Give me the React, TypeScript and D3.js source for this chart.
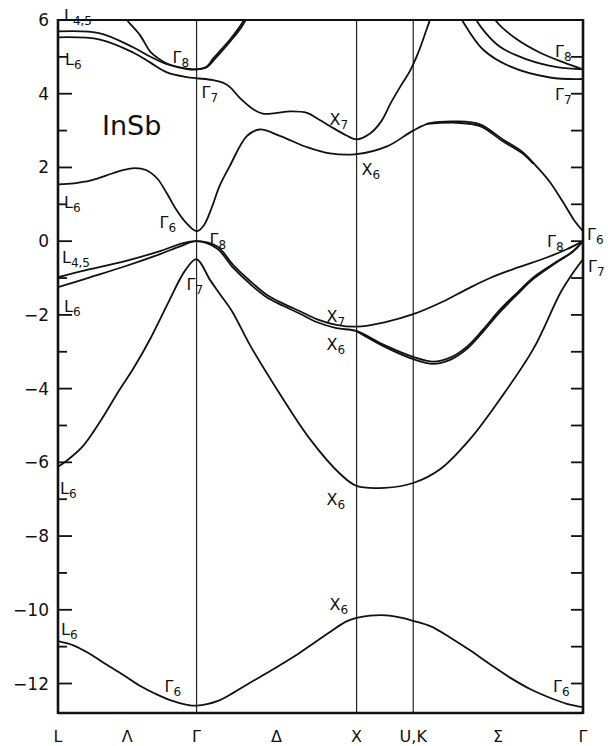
import React from "react";
import * as d3 from "d3";

// Symmetry points along the path L–Γ–X–U,K–Γ (k in units of 2π/a)
const K_L = 0;
const K_G = 0.866;
const K_X = 1.866;
const K_U = 2.22;
const K_G2 = 3.281;

const pathLabels = [
  { text: "L", k: K_L },
  { text: "Λ", k: (K_L + K_G) / 2 },
  { text: "Γ", k: K_G },
  { text: "Δ", k: (K_G + K_X) / 2 },
  { text: "X", k: K_X },
  { text: "U,K", k: K_U },
  { text: "Σ", k: (K_U + K_G2) / 2 },
  { text: "Γ", k: K_G2 },
];

const energyTicks = d3.range(-12, 7, 1);
const energyLabels = [6, 4, 2, 0, -2, -4, -6, -8, -10, -12];

// Bands as [k, E (eV)]
const bandS: [number, number][] = [
  [0, -10.85], [0.1, -10.97], [0.2, -11.2], [0.3, -11.48], [0.42, -11.8], [0.52, -12.08],
  [0.62, -12.3], [0.72, -12.48], [0.8, -12.57], [0.866, -12.6],
  [1.0, -12.47], [1.1, -12.24], [1.2, -11.98], [1.35, -11.6], [1.5, -11.2], [1.6, -10.9],
  [1.7, -10.6], [1.8, -10.32], [1.866, -10.22], [1.95, -10.16], [2.05, -10.15], [2.15, -10.22],
  [2.22, -10.3], [2.33, -10.45], [2.45, -10.75], [2.575, -11.1], [2.7, -11.48], [2.825, -11.84],
  [2.95, -12.15], [3.07, -12.38], [3.18, -12.55], [3.281, -12.64],
];

const bandP: [number, number][] = [
  [0, -6.12], [0.056, -5.95], [0.156, -5.56], [0.2625, -4.9], [0.3875, -4.01], [0.469, -3.47],
  [0.575, -2.66], [0.7, -1.57], [0.794, -0.8], [0.866, -0.49], [0.95, -1.05], [1.0125, -1.44],
  [1.09, -1.92], [1.2, -2.82], [1.3875, -4.15], [1.575, -5.37], [1.7625, -6.31], [1.866, -6.64],
  [2.04, -6.69], [2.22, -6.56], [2.39, -6.18], [2.575, -5.37], [2.76, -4.3], [2.97, -2.93],
  [3.14, -1.4], [3.22, -0.85], [3.281, -0.49],
];

const bandV1: [number, number][] = [
  [0, -0.98], [0.2, -0.76], [0.42, -0.54], [0.6375, -0.27], [0.7625, -0.08], [0.866, 0],
  [0.994, -0.14], [1.094, -0.64], [1.2, -1.08], [1.306, -1.46], [1.41, -1.7], [1.5125, -1.9],
  [1.62, -2.12], [1.74, -2.27], [1.866, -2.32], [2.04, -2.2], [2.22, -1.98], [2.4, -1.65],
  [2.556, -1.3], [2.7, -1.0], [2.87, -0.72], [3.05, -0.45], [3.18, -0.22], [3.281, 0],
];

const bandV2: [number, number][] = [
  [0, -1.25], [0.2, -0.98], [0.42, -0.68], [0.6375, -0.35], [0.7625, -0.14], [0.866, 0],
  [0.994, -0.2], [1.094, -0.72], [1.2, -1.16], [1.306, -1.53], [1.41, -1.76], [1.5125, -1.97],
  [1.62, -2.2], [1.74, -2.36], [1.866, -2.44], [2.04, -2.82], [2.22, -3.14], [2.344, -3.27],
  [2.45, -3.16], [2.556, -2.86], [2.656, -2.4], [2.7625, -1.86], [2.869, -1.4], [2.969, -0.99],
  [3.094, -0.62], [3.219, -0.27], [3.281, 0],
];

const bandV3: [number, number][] = [
  [1.866, -2.44], [2.04, -2.86], [2.22, -3.2], [2.344, -3.33], [2.45, -3.22], [2.556, -2.92],
  [2.656, -2.46], [2.7625, -1.92], [2.869, -1.45], [2.969, -1.03], [3.094, -0.64], [3.219, -0.28],
  [3.281, 0],
];

const bandC1: [number, number][] = [
  [0, 1.54], [0.1, 1.57], [0.2, 1.64], [0.3, 1.78], [0.4, 1.92], [0.48, 1.98], [0.55, 1.93],
  [0.62, 1.7], [0.68, 1.3], [0.74, 0.85], [0.8, 0.5], [0.866, 0.27], [0.91, 0.42],
  [0.96, 0.9], [1.01, 1.5], [1.075, 2.05], [1.18, 2.85], [1.26, 3.03],
  [1.39, 2.85], [1.556, 2.55], [1.7, 2.38], [1.866, 2.36], [2.056, 2.57], [2.22, 3.0],
  [2.325, 3.2], [2.494, 3.25], [2.6375, 3.17], [2.78, 2.76], [2.906, 2.41], [2.99, 2.03],
  [3.075, 1.6], [3.156, 1.06], [3.23, 0.54], [3.281, 0.27],
];

const bandC1b: [number, number][] = [
  [2.3, 3.18], [2.494, 3.21], [2.6375, 3.12], [2.78, 2.71], [2.906, 2.37], [2.97, 2.1],
];

const bandC2: [number, number][] = [
  [0, 5.69], [0.2625, 5.64], [0.469, 5.26], [0.575, 5.01], [0.681, 4.8], [0.806, 4.67],
  [0.866, 4.66], [0.93, 4.74], [0.969, 4.95], [1.075, 5.47], [1.1375, 5.83], [1.19, 6.2],
];

const bandC3: [number, number][] = [
  [0.42, 6.1], [0.431, 6.0], [0.5125, 5.59], [0.575, 5.15], [0.62, 4.98], [0.681, 4.82],
  [0.806, 4.68], [0.866, 4.66], [0.93, 4.72], [0.975, 4.92], [1.08, 5.44], [1.145, 5.8],
  [1.2, 6.2],
];

const bandC4: [number, number][] = [
  [0, 5.53], [0.2625, 5.47], [0.469, 5.12], [0.575, 4.85], [0.681, 4.58], [0.806, 4.45],
  [0.866, 4.42], [0.969, 4.37], [1.03, 4.3], [1.075, 4.18], [1.1375, 3.88], [1.22, 3.58],
  [1.28, 3.46], [1.37, 3.48], [1.45, 3.52], [1.556, 3.48], [1.63, 3.3], [1.7, 3.12],
  [1.806, 2.86], [1.866, 2.76], [1.95, 2.92], [2.02, 3.25], [2.08, 3.75], [2.14, 4.2],
  [2.2, 4.62], [2.25, 5.1], [2.3, 5.7], [2.34, 6.2],
];

const bandSigmaA: [number, number][] = [
  [2.5, 6.2], [2.53, 5.96], [2.656, 5.2], [2.825, 4.74], [3.075, 4.44], [3.281, 4.4],
];
const bandSigmaB: [number, number][] = [
  [2.6, 6.2], [2.62, 5.96], [2.76, 5.28], [2.93, 4.93], [3.12, 4.72], [3.281, 4.66],
];
const bandSigmaC: [number, number][] = [
  [2.71, 6.2], [2.74, 5.96], [2.87, 5.47], [3.01, 5.12], [3.16, 4.85], [3.281, 4.66],
];

const bands = [
  bandS, bandP, bandV1, bandV2, bandV3, bandC1, bandC1b, bandC2, bandC3, bandC4,
  bandSigmaA, bandSigmaB, bandSigmaC,
];

// State labels: anchor (k, E) plus text offset in px
const stateLabels = [
  { main: "L", sub: "4,5", k: K_L, e: 6, dx: 6, dy: 1 },
  { main: "L", sub: "6", k: K_L, e: 5.53, dx: 7, dy: 28 },
  { main: "Γ", sub: "8", k: K_G, e: 4.66, dx: -24, dy: -6 },
  { main: "Γ", sub: "7", k: K_G, e: 4.42, dx: 5, dy: 20 },
  { main: "X", sub: "7", k: K_X, e: 2.76, dx: -27, dy: -14 },
  { main: "X", sub: "6", k: K_X, e: 2.36, dx: 5, dy: 21 },
  { main: "Γ", sub: "8", k: K_G2, e: 4.66, dx: -28, dy: -12 },
  { main: "Γ", sub: "7", k: K_G2, e: 4.4, dx: -28, dy: 21 },
  { main: "L", sub: "6", k: K_L, e: 1.54, dx: 6, dy: 24 },
  { main: "Γ", sub: "6", k: K_G, e: 0.27, dx: -37, dy: -3 },
  { main: "Γ", sub: "8", k: K_G, e: 0, dx: 13, dy: 4 },
  { main: "Γ", sub: "6", k: K_G2, e: 0.27, dx: 4, dy: 9 },
  { main: "Γ", sub: "8", k: K_G2, e: 0, dx: -36, dy: 6 },
  { main: "Γ", sub: "7", k: K_G2, e: -0.49, dx: 5, dy: 13 },
  { main: "L", sub: "4,5", k: K_L, e: -0.98, dx: 4, dy: -14 },
  { main: "L", sub: "6", k: K_L, e: -1.25, dx: 6, dy: 25 },
  { main: "Γ", sub: "7", k: K_G, e: -0.49, dx: -10, dy: 31 },
  { main: "X", sub: "7", k: K_X, e: -2.32, dx: -30, dy: -5 },
  { main: "X", sub: "6", k: K_X, e: -2.44, dx: -30, dy: 19 },
  { main: "L", sub: "6", k: K_L, e: -6.12, dx: 2, dy: 27 },
  { main: "X", sub: "6", k: K_X, e: -6.64, dx: -30, dy: 19 },
  { main: "X", sub: "6", k: K_X, e: -10.22, dx: -27, dy: -8 },
  { main: "L", sub: "6", k: K_L, e: -10.85, dx: 3, dy: -6 },
  { main: "Γ", sub: "6", k: K_G, e: -12.6, dx: -32, dy: -14 },
  { main: "Γ", sub: "6", k: K_G2, e: -12.64, dx: -30, dy: -15 },
];

const FONT = "'DejaVu Sans', 'Liberation Sans', sans-serif";

export default function App() {
  const left = 58;
  const right = 583;
  const top = 20;
  const bottom = 713;
  const x = d3.scaleLinear().domain([K_L, K_G2]).range([left, right]);
  const y = d3.scaleLinear().domain([-12.8, 6]).range([bottom, top]);
  const line = d3
    .line<[number, number]>()
    .x((d) => x(d[0]))
    .y((d) => y(d[1]))
    .curve(d3.curveCatmullRom.alpha(0.5));

  const verticals = [K_G, K_X, K_U];

  return (
    <svg
      width={608}
      height={746}
      style={{ position: "absolute", left: 0, top: 0, background: "#fff" }}
      fontFamily={FONT}
    >
      <defs>
        <clipPath id="plot">
          <rect x={left} y={top} width={right - left} height={bottom - top} />
        </clipPath>
      </defs>

      {verticals.map((k, i) => (
        <line key={i} x1={x(k)} x2={x(k)} y1={top} y2={bottom} stroke="#222" strokeWidth={1.2} />
      ))}

      <g clipPath="url(#plot)" fill="none" stroke="#111" strokeWidth={1.8} strokeLinejoin="round">
        {bands.map((b, i) => (
          <path key={i} d={line(b) || ""} />
        ))}
      </g>

      {/* frame */}
      <line x1={left} x2={right} y1={top} y2={top} stroke="#111" strokeWidth={2} />
      <line x1={left} x2={right} y1={bottom} y2={bottom} stroke="#111" strokeWidth={2.4} />
      <line x1={left} x2={left} y1={top - 1} y2={bottom + 1} stroke="#111" strokeWidth={2.6} />
      <line x1={right} x2={right} y1={top - 1} y2={bottom + 1} stroke="#111" strokeWidth={2.6} />

      {/* energy ticks */}
      {energyTicks.map((e) => (
        <g key={e}>
          <line x1={left} x2={left + (e % 2 === 0 ? 14 : 9)} y1={y(e)} y2={y(e)} stroke="#111" strokeWidth={1.8} />
          <line x1={right} x2={right - 12} y1={y(e)} y2={y(e)} stroke="#111" strokeWidth={1.8} />
        </g>
      ))}
      {energyLabels.map((e) => (
        <text key={e} x={49} y={y(e) + 6} textAnchor="end" fontSize={17} fill="#111">
          {e < 0 ? `−${-e}` : `${e}`}
        </text>
      ))}

      {/* path labels */}
      {pathLabels.map((p, i) => (
        <text key={i} x={x(p.k)} y={742} textAnchor="middle" fontSize={16} fill="#111">
          {p.text}
        </text>
      ))}

      {/* state labels */}
      {stateLabels.map((s, i) => (
        <text key={i} x={x(s.k) + s.dx} y={y(s.e) + s.dy} fontSize={16} fill="#111">
          {s.main}
          <tspan fontSize={12} dy={4}>{s.sub}</tspan>
        </text>
      ))}

      <text x={102} y={135} fontSize={27} fill="#111">InSb</text>
    </svg>
  );
}
